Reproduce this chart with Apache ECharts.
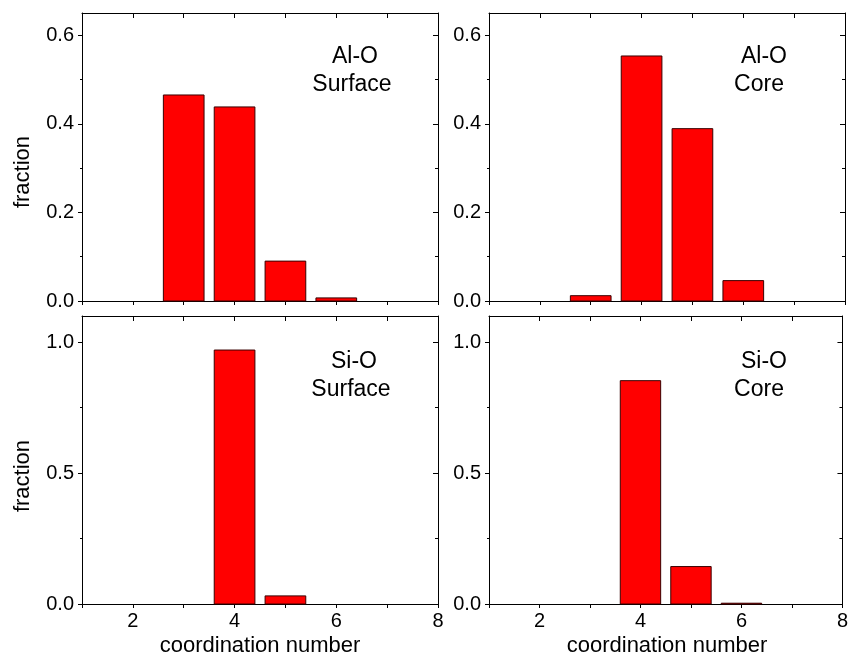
<!DOCTYPE html>
<html>
<head>
<meta charset="utf-8">
<script src="https://cdn.jsdelivr.net/npm/echarts@6/dist/echarts.min.js"></script>
<style>
html,body{margin:0;padding:0;background:#fff;}
#chart{width:851px;height:653px;}
</style>
</head>
<body>
<div id="chart"></div>
<script>
// ---- data ----
const coordNumbers = [3, 4, 5, 6];
const alSurface = [0.465, 0.438, 0.090, 0.007];
const alCore    = [0.012, 0.553, 0.389, 0.046];
const siSurface = [0, 0.970, 0.031, 0];
const siCore    = [0, 0.853, 0.143, 0.003];

const xTickLabels = [2, 4, 6, 8];
const topYMajor = [0, 0.2, 0.4, 0.6];
const topYMinor = [0.1, 0.3, 0.5];
const botYMajor = [0, 0.5, 1.0];
const botYMinor = [0.25, 0.75];

const panelLabels = [
  ['Al-O', 'Surface'],
  ['Al-O', 'Core'],
  ['Si-O', 'Surface'],
  ['Si-O', 'Core']
];
const xTitle = 'coordination number';
const yTitle = 'fraction';

// ---- layout ----
const FONT = '"Liberation Sans", Arial, Helvetica, sans-serif';
const panels = [
  {left: 82,  top: 13,  vals: alSurface, max: 0.65, major: topYMajor, minor: topYMinor, xLabels: false},
  {left: 489, top: 13,  vals: alCore,    max: 0.65, major: topYMajor, minor: topYMinor, xLabels: false},
  {left: 82,  top: 316, vals: siSurface, max: 1.1,  major: botYMajor, minor: botYMinor, xLabels: true},
  {left: 489, top: 316, vals: siCore,    max: 1.1,  major: botYMajor, minor: botYMinor, xLabels: true}
];
const W = 356, H = 288;

const grid = [], xAxis = [], yAxis = [], series = [];
const lineStyle = {color: '#000', width: 1};

panels.forEach((p, i) => {
  grid.push({left: p.left, top: p.top, width: W, height: H, containLabel: false});
  // bottom x axis
  xAxis.push({
    gridIndex: i, type: 'value', min: 1, max: 8, interval: 1, position: 'bottom',
    axisLine: {show: true, onZero: false, lineStyle},
    axisTick: {show: true, length: 4, lineStyle},
    axisLabel: {show: p.xLabels, customValues: xTickLabels, fontSize: 20, color: '#000', fontFamily: FONT, margin: 7},
    splitLine: {show: false}
  });
  // top x axis
  xAxis.push({
    gridIndex: i, type: 'value', min: 1, max: 8, interval: 1, position: 'top',
    axisLine: {show: true, onZero: false, lineStyle},
    axisTick: {show: true, inside: true, length: 5, lineStyle},
    axisLabel: {show: false},
    splitLine: {show: false}
  });
  // left major
  yAxis.push({
    gridIndex: i, type: 'value', min: 0, max: p.max, position: 'left',
    axisLine: {show: true, onZero: false, lineStyle},
    axisTick: {show: true, length: 4, customValues: p.major, lineStyle},
    axisLabel: {show: true, customValues: p.major, formatter: v => v.toFixed(1), fontSize: 20, color: '#000', fontFamily: FONT, margin: 8},
    splitLine: {show: false}
  });
  // left minor
  yAxis.push({
    gridIndex: i, type: 'value', min: 0, max: p.max, position: 'left',
    axisLine: {show: false},
    axisTick: {show: true, length: 2, customValues: p.minor, lineStyle},
    axisLabel: {show: false},
    splitLine: {show: false}
  });
  // right major
  yAxis.push({
    gridIndex: i, type: 'value', min: 0, max: p.max, position: 'right',
    axisLine: {show: true, onZero: false, lineStyle},
    axisTick: {show: true, inside: true, length: 5, customValues: p.major, lineStyle},
    axisLabel: {show: false},
    splitLine: {show: false}
  });
  // right minor
  yAxis.push({
    gridIndex: i, type: 'value', min: 0, max: p.max, position: 'right',
    axisLine: {show: false},
    axisTick: {show: true, inside: true, length: 3, customValues: p.minor, lineStyle},
    axisLabel: {show: false},
    splitLine: {show: false}
  });
  series.push({
    type: 'custom',
    xAxisIndex: 2 * i,
    yAxisIndex: 4 * i,
    data: coordNumbers.map((x, k) => [x, p.vals[k]]),
    renderItem: function (params, api) {
      const x = api.value(0), y = api.value(1);
      if (!y) return null;
      const a = api.coord([x - 0.4, y]);
      const b = api.coord([x + 0.4, 0]);
      return {
        type: 'rect',
        shape: {x: a[0], y: a[1], width: b[0] - a[0], height: b[1] - a[1]},
        style: {fill: '#ff0000', stroke: '#3a0000', lineWidth: 1}
      };
    }
  });
});

const labelPos = [
  [[355, 57], [352, 85]],
  [[764, 57], [759, 85]],
  [[354, 362], [351, 390]],
  [[764, 362], [759, 390]]
];
const graphic = [];
panelLabels.forEach((pair, i) => {
  pair.forEach((t, j) => {
    graphic.push({
      type: 'text', x: labelPos[i][j][0], y: labelPos[i][j][1],
      style: {text: t, font: '23px ' + FONT, fill: '#000', align: 'center', verticalAlign: 'middle'}
    });
  });
});
[[23, 172], [23, 476]].forEach(pt => {
  graphic.push({
    type: 'text', x: pt[0], y: pt[1], rotation: Math.PI / 2,
    style: {text: yTitle, font: '22px ' + FONT, fill: '#000', align: 'center', verticalAlign: 'middle'}
  });
});
[[260, 646], [667, 646]].forEach(pt => {
  graphic.push({
    type: 'text', x: pt[0], y: pt[1],
    style: {text: xTitle, font: '22px ' + FONT, fill: '#000', align: 'center', verticalAlign: 'middle'}
  });
});

const chart = echarts.init(document.getElementById('chart'), null, {renderer: 'canvas'});
chart.setOption({
  animation: false,
  backgroundColor: '#fff',
  grid, xAxis, yAxis, series, graphic
});
</script>
</body>
</html>
